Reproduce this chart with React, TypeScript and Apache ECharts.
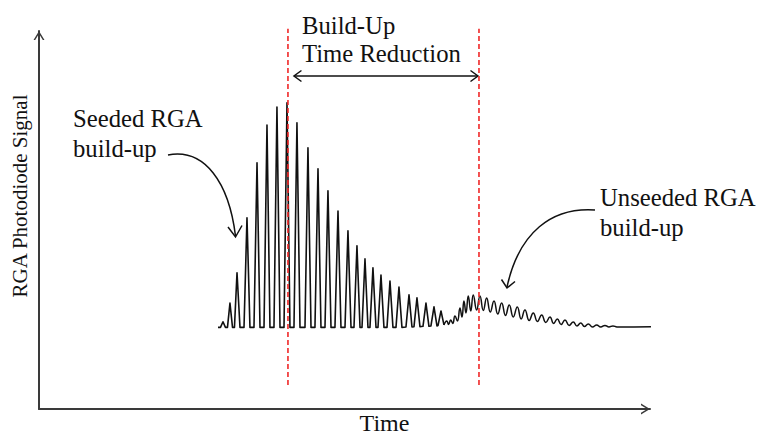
import React, { useEffect, useRef } from "react";
import * as echarts from "echarts";

// ---- Seeded RGA build-up (sharp photodiode pulses) ----
const seededPeakTime = [30.26, 31.41, 32.57, 34.21, 35.86, 37.5, 39.14, 40.79, 42.43, 44.24, 45.89, 47.53, 49.18, 50.82, 52.3, 53.62, 54.93, 56.25, 57.73, 59.21, 60.86, 62.17, 63.65, 64.97, 66.12];
const seededPeakSignal = [23.3, 28.3, 36.4, 51.1, 65.8, 75.9, 80.7, 81.8, 76.5, 69.8, 64.2, 58.3, 52.9, 47.6, 43.6, 40.1, 37.7, 35.8, 34.2, 32.6, 30.5, 29.7, 28.3, 27.3, 26.2];
// edges of the flat troughs between pulses
const seededTroughTime = [29.44, 29.85, 30.67, 31.0, 31.83, 32.15, 33.06, 33.72, 34.7, 35.36, 36.35, 37.01, 37.99, 38.65, 39.64, 40.3, 41.28, 41.94, 42.93, 43.75, 44.74, 45.39, 46.38, 47.04, 48.03, 48.68, 49.67, 50.33, 51.32, 51.81, 52.8, 53.13, 54.11, 54.44, 55.43, 55.76, 56.74, 57.24, 58.22, 58.72, 59.7, 60.36, 61.35, 61.68, 62.66, 63.16, 64.14, 64.47, 65.46, 65.63, 66.61];
const seededTroughSignal = [21.8, 21.8, 21.8, 21.8, 21.8, 21.8, 21.8, 21.8, 21.8, 21.8, 21.8, 21.8, 21.8, 21.8, 21.8, 21.8, 21.8, 21.8, 21.8, 21.8, 21.8, 21.8, 21.8, 21.8, 21.8, 21.8, 21.8, 21.8, 21.8, 21.8, 21.8, 21.8, 21.8, 21.8, 21.8, 21.8, 21.8, 21.8, 21.8, 21.8, 21.8, 21.9, 21.9, 22.0, 22.0, 22.1, 22.1, 22.2, 22.2, 22.3, 22.46];

// ---- Unseeded RGA build-up (slow damped oscillation) ----
const unseededPeakTime = [67.06, 67.71, 68.42, 69.24, 69.9, 70.61, 71.43, 72.53, 73.63, 74.84, 76.1, 77.35, 78.67, 79.93, 81.3, 82.68, 84.05, 85.25, 86.51, 87.88, 89.1, 90.35, 91.73, 93.09, 94.41];
const unseededPeakSignal = [23.53, 23.8, 24.87, 27.01, 28.88, 30.21, 30.48, 30.21, 29.68, 28.88, 28.34, 27.81, 27.27, 26.47, 25.67, 25.13, 24.6, 24.06, 23.8, 23.26, 22.99, 22.73, 22.46, 22.33, 22.19];
const unseededTroughTime = [66.61, 67.38, 68.06, 68.83, 69.57, 70.23, 71.02, 71.99, 73.08, 74.23, 75.46, 76.73, 78.01, 79.31, 80.63, 81.99, 83.36, 84.65, 85.89, 87.2, 88.49, 89.72, 91.04, 92.4, 93.75, 95.07, 100.66];
const unseededTroughSignal = [22.46, 22.59, 22.86, 23.53, 24.6, 25.67, 26.2, 26.47, 26.34, 25.94, 25.4, 25.0, 24.6, 24.06, 23.66, 23.4, 23.13, 22.86, 22.59, 22.33, 22.19, 22.06, 21.93, 21.93, 21.93, 21.93, 22.0];

// ---- Build-up time markers ----
const markerTimes = [40.95, 72.37];
const markerSignalRange = [6.42, 101.6];

// ---- Texts ----
const xTitle = "Time";
const yTitle = "RGA Photodiode Signal";
const seededText = ["Seeded RGA", "build-up"];
const unseededText = ["Unseeded RGA", "build-up"];
const reductionText = ["Build-Up", "Time Reduction"];

const SERIF = '"Liberation Serif", "Times New Roman", serif';
const INK = "#111111";
const AXIS = "#3a3a3a";
const RED = "#f02828";
const FS = 24.7;

function trace(tA: number[], sA: number[], tB: number[], sB: number[]) {
  const pts: number[][] = [];
  tA.forEach((t, i) => pts.push([t, sA[i]]));
  tB.forEach((t, i) => pts.push([t, sB[i]]));
  pts.sort((a, b) => a[0] - b[0]);
  return pts;
}

const chevron = "path://M0 9 L5.5 0 L11 9 L9.3 9 L5.5 2.8 L1.7 9 Z";

export default function App() {
  const ref = useRef<HTMLDivElement>(null);
  useEffect(() => {
    const chart = echarts.init(ref.current!, null, { renderer: "svg" });
    const axisCommon = {
      type: "value",
      min: 0,
      axisTick: { show: false },
      axisLabel: { show: false },
      splitLine: { show: false },
      axisLine: {
        show: true,
        onZero: false,
        symbol: ["none", chevron],
        symbolSize: [11, 9],
        symbolOffset: [0, -4.5],
        lineStyle: { color: AXIS, width: 2 },
      },
    };
    chart.setOption({
      animation: false,
      backgroundColor: "#ffffff",
      grid: { left: 39, right: 107, top: 31, bottom: 26, containLabel: false, outerBoundsMode: "none" },
      xAxis: { ...axisCommon, max: 100.5 },
      yAxis: { ...axisCommon, max: 101 },
      series: [
        {
          name: "Seeded RGA",
          type: "line",
          data: trace(seededTroughTime, seededTroughSignal, seededPeakTime, seededPeakSignal),
          symbol: "none",
          smooth: false,
          silent: true,
          clip: false,
          lineStyle: { color: INK, width: 1.6, join: "round" },
        },
        {
          name: "Unseeded RGA",
          type: "line",
          data: trace(unseededTroughTime, unseededTroughSignal, unseededPeakTime, unseededPeakSignal),
          symbol: "none",
          smooth: 0.5,
          silent: true,
          clip: false,
          lineStyle: { color: INK, width: 1.5, join: "round" },
        },
        ...markerTimes.map((t, i) => ({
          name: "marker" + i,
          type: "line",
          data: [
            [t, markerSignalRange[0]],
            [t, markerSignalRange[1]],
          ],
          symbol: "none",
          silent: true,
          clip: false,
          z: 5,
          lineStyle: { color: RED, width: 1.6, type: [5, 3] },
        })),
      ],
    });

    const toPx = (p: number[]) =>
      chart.convertToPixel({ xAxisIndex: 0, yAxisIndex: 0 }, p) as number[];
    const left = toPx([markerTimes[0], 0])[0] + 6;
    const right = toPx([markerTimes[1], 0])[0] - 1;
    const ay = 76;

    const txt = (text: string, x: number, y: number, size = FS, align = "left", rotation = 0) => ({
      type: "text",
      x,
      y,
      rotation,
      silent: true,
      style: {
        text,
        font: `${size}px ${SERIF}`,
        fill: INK,
        align,
        verticalAlign: "middle",
      },
    });
    const stroke = { stroke: INK, lineWidth: 1.5, fill: "none" };

    chart.setOption({
      graphic: [
        txt(xTitle, 384.5, 423, 24, "center"),
        txt(yTitle, 20, 196, 21, "center", Math.PI / 2),
        txt(seededText[0], 73, 118.6),
        txt(seededText[1], 73, 148.6),
        txt(unseededText[0], 600, 197.5),
        txt(unseededText[1], 600, 227),
        txt(reductionText[0], 302, 25),
        txt(reductionText[1], 302, 53.7),
        {
          type: "line",
          silent: true,
          shape: { x1: left, y1: ay, x2: right, y2: ay },
          style: stroke,
        },
        {
          type: "polyline",
          silent: true,
          shape: { points: [[left + 7.5, ay - 5.5], [left, ay], [left + 7.5, ay + 5.5]] },
          style: stroke,
        },
        {
          type: "polyline",
          silent: true,
          shape: { points: [[right - 7.5, ay - 5.5], [right, ay], [right - 7.5, ay + 5.5]] },
          style: stroke,
        },
        {
          type: "bezierCurve",
          silent: true,
          shape: { x1: 168, y1: 155, cpx1: 205, cpy1: 148, cpx2: 229, cpy2: 183, x2: 235.5, y2: 236 },
          style: stroke,
        },
        {
          type: "polyline",
          silent: true,
          shape: { points: [[228, 227], [235.5, 237], [242, 225.5]] },
          style: stroke,
        },
        {
          type: "bezierCurve",
          silent: true,
          shape: { x1: 595, y1: 210, cpx1: 552, cpy1: 207, cpx2: 519, cpy2: 232, x2: 507, y2: 287 },
          style: stroke,
        },
        {
          type: "polyline",
          silent: true,
          shape: { points: [[501.5, 279.5], [507, 288], [515, 281.5]] },
          style: stroke,
        },
      ],
    });
    return () => chart.dispose();
  }, []);
  return (
    <div
      ref={ref}
      style={{ position: "absolute", left: 0, top: 0, width: 757, height: 435, background: "#fff" }}
    />
  );
}
